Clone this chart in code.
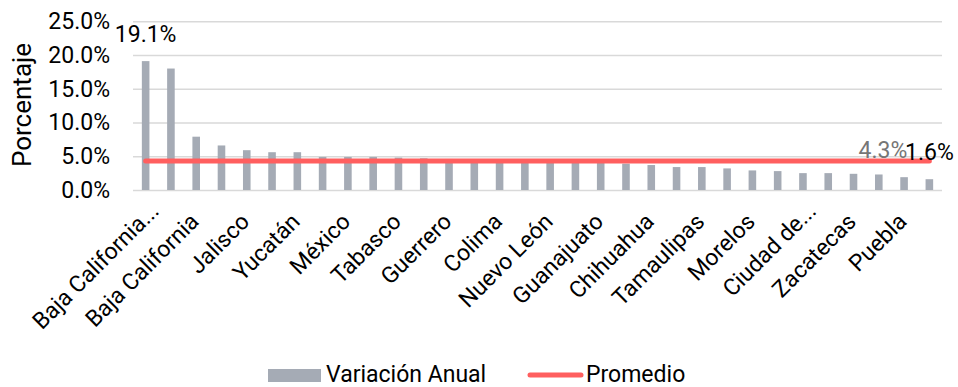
<!DOCTYPE html>
<html>
<head>
<meta charset="utf-8">
<script src="https://cdn.jsdelivr.net/npm/d3@7"></script>
<style>
  body { margin: 0; background: #fff; }
  text { font-family: Roboto, 'Noto Sans', sans-serif; }
</style>
</head>
<body>
<div id="chart"></div>
<script>
// states sorted by annual variation (every other one gets a tick label)
const estados = [
  'Baja California Sur', 'Quintana Roo', 'Baja California', 'Nayarit',
  'Jalisco', 'Querétaro', 'Yucatán', 'Sonora',
  'México', 'Aguascalientes', 'Tabasco', 'Sinaloa',
  'Guerrero', 'Oaxaca', 'Colima', 'Hidalgo',
  'Nuevo León', 'Michoacán', 'Guanajuato', 'San Luis Potosí',
  'Chihuahua', 'Durango', 'Tamaulipas', 'Coahuila',
  'Morelos', 'Veracruz', 'Ciudad de México', 'Chiapas',
  'Zacatecas', 'Tlaxcala', 'Puebla', 'Campeche'
]

const variacionAnual = [
  19.1, 18.0, 7.9, 6.6, 5.9, 5.6, 5.6, 4.9,
  4.9, 4.9, 4.8, 4.7, 4.6, 4.5, 4.5, 4.3,
  4.2, 4.1, 4.0, 3.9, 3.7, 3.4, 3.4, 3.2,
  2.9, 2.8, 2.5, 2.5, 2.4, 2.3, 1.9, 1.6
]

const promedio = estados.map(function() {
  return 4.3
})

const yTicks = [0, 5, 10, 15, 20, 25]

const width = 958
const height = 387
const margin = { top: 21.3, left: 133, right: 16, bottom: 197 }

const svg = d3
  .select('#chart')
  .append('svg')
  .attr('width', width)
  .attr('height', height)

const datapoints = estados.map(function(d, i) {
  return { estado: d, valor: variacionAnual[i], promedio: promedio[i] }
})

const xPositionScale = d3
  .scaleBand()
  .domain(estados)
  .range([margin.left, width - margin.right])
  .paddingInner(0.7)
  .paddingOuter(0.35)

const yPositionScale = d3
  .scaleLinear()
  .domain([0, 25])
  .range([height - margin.bottom, margin.top])

const center = function(d) {
  return xPositionScale(d) + xPositionScale.bandwidth() / 2
}

// gridlines + y labels
const yAxis = d3
  .axisLeft(yPositionScale)
  .tickValues(yTicks)
  .tickSize(-(width - margin.left - margin.right))
  .tickPadding(23)
  .tickFormat(function(d) {
    return d.toFixed(1) + '%'
  })

svg
  .append('g')
  .attr('class', 'axis y-axis')
  .attr('transform', 'translate(' + margin.left + ',0)')
  .call(yAxis)
  .call(function(g) {
    g.select('.domain').remove()
    g.selectAll('line').attr('stroke', '#d9d9d9').attr('stroke-width', 1.5)
    g.selectAll('text')
      .attr('font-size', 23)
      .attr('fill', '#000')
      .attr('font-family', 'Roboto')
  })

svg
  .append('text')
  .attr('transform', 'translate(31,105) rotate(-90)')
  .attr('text-anchor', 'middle')
  .attr('font-size', 26)
  .text('Porcentaje')

// bars
svg
  .selectAll('.bar')
  .data(datapoints)
  .enter()
  .append('rect')
  .attr('class', 'bar')
  .attr('x', function(d) {
    return xPositionScale(d.estado)
  })
  .attr('width', xPositionScale.bandwidth())
  .attr('y', function(d) {
    return yPositionScale(d.valor)
  })
  .attr('height', function(d) {
    return yPositionScale(0) - yPositionScale(d.valor)
  })
  .attr('fill', '#a5abb5')

// average line
const line = d3
  .line()
  .x(function(d) {
    return center(d.estado)
  })
  .y(function(d) {
    return yPositionScale(d.promedio)
  })

svg
  .append('path')
  .datum(datapoints)
  .attr('d', line)
  .attr('fill', 'none')
  .attr('stroke', '#ff5f5f')
  .attr('stroke-width', 5)
  .attr('stroke-linecap', 'round')

// data labels
const first = datapoints[0]
const last = datapoints[datapoints.length - 1]

svg
  .selectAll('.bar-label')
  .data([first, last])
  .enter()
  .append('text')
  .attr('class', 'bar-label')
  .attr('x', function(d) {
    return center(d.estado)
  })
  .attr('y', function(d) {
    return yPositionScale(d.valor) - 19
  })
  .attr('text-anchor', 'middle')
  .attr('font-size', 23)
  .text(function(d) {
    return d.valor.toFixed(1) + '%'
  })

svg
  .append('text')
  .attr('x', center(last.estado) - 22)
  .attr('y', yPositionScale(last.promedio) - 3)
  .attr('text-anchor', 'end')
  .attr('font-size', 23)
  .attr('fill', '#767676')
  .text(last.promedio.toFixed(1) + '%')

// category labels, every other one, Excel-like truncation
function shortName(name) {
  if (name.length <= 15) return name
  const words = name.split(' ')
  let out = ''
  let done = false
  words.forEach(function(w) {
    const next = out ? out + ' ' + w : w
    if (!done && next.length <= 15) {
      out = next
    } else {
      done = true
    }
  })
  return out + '...'
}

svg
  .selectAll('.x-label')
  .data(
    estados.filter(function(d, i) {
      return i % 2 === 0
    })
  )
  .enter()
  .append('text')
  .attr('class', 'x-label')
  .attr('transform', function(d) {
    return 'translate(' + (center(d) + 4) + ',223) rotate(-45)'
  })
  .attr('x', function(d) {
    return shortName(d) === d ? 0 : 15
  })
  .attr('text-anchor', 'end')
  .attr('font-size', 23)
  .text(shortName)

// legend
const legend = svg.append('g').attr('class', 'legend')

legend
  .append('rect')
  .attr('x', 268)
  .attr('y', 369)
  .attr('width', 53)
  .attr('height', 13)
  .attr('fill', '#a5abb5')

legend
  .append('text')
  .attr('x', 326)
  .attr('y', 382)
  .attr('font-size', 23)
  .text('Variación Anual')

legend
  .append('line')
  .attr('x1', 530)
  .attr('x2', 581)
  .attr('y1', 375)
  .attr('y2', 375)
  .attr('stroke', '#ff5f5f')
  .attr('stroke-width', 5)
  .attr('stroke-linecap', 'round')

legend
  .append('text')
  .attr('x', 586)
  .attr('y', 382)
  .attr('font-size', 23)
  .text('Promedio')
</script>
</body>
</html>
